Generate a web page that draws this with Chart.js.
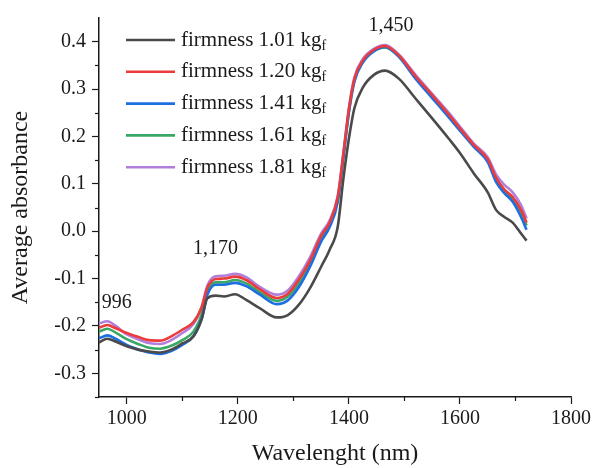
<!DOCTYPE html>
<html>
<head>
<meta charset="utf-8">
<script src="https://cdn.jsdelivr.net/npm/chart.js@4.4.1/dist/chart.umd.min.js"></script>
<style>
  html, body { margin: 0; padding: 0; background: #fff; }
  #wrap { width: 594px; height: 468px; }
</style>
</head>
<body>
<div id="wrap"><canvas id="spectra"></canvas></div>
<script>
const wavelengths = [950, 965, 980, 1000, 1020, 1040, 1060, 1080, 1100, 1120, 1135, 1145, 1160, 1175, 1195, 1215, 1240, 1270, 1290, 1310, 1330, 1350, 1365, 1380, 1390, 1400, 1410, 1425, 1445, 1465, 1490, 1520, 1550, 1580, 1600, 1625, 1650, 1665, 1680, 1695, 1710, 1720];

const firm101 = [-0.235, -0.227, -0.233, -0.243, -0.250, -0.254, -0.256, -0.250, -0.237, -0.222, -0.185, -0.142, -0.136, -0.138, -0.133, -0.145, -0.163, -0.182, -0.177, -0.155, -0.120, -0.075, -0.040, 0.010, 0.110, 0.195, 0.260, 0.303, 0.330, 0.339, 0.322, 0.280, 0.238, 0.195, 0.165, 0.122, 0.082, 0.045, 0.030, 0.018, -0.005, -0.020];
const firm120 = [-0.204, -0.198, -0.205, -0.215, -0.223, -0.230, -0.231, -0.222, -0.208, -0.192, -0.160, -0.120, -0.101, -0.100, -0.096, -0.103, -0.123, -0.141, -0.132, -0.102, -0.062, -0.010, 0.018, 0.072, 0.162, 0.257, 0.322, 0.360, 0.383, 0.391, 0.371, 0.327, 0.287, 0.246, 0.217, 0.182, 0.152, 0.113, 0.088, 0.072, 0.045, 0.018];
const firm141 = [-0.226, -0.220, -0.227, -0.240, -0.249, -0.256, -0.259, -0.253, -0.240, -0.222, -0.185, -0.135, -0.113, -0.113, -0.109, -0.116, -0.134, -0.154, -0.146, -0.118, -0.075, -0.022, 0.008, 0.062, 0.155, 0.250, 0.316, 0.356, 0.380, 0.389, 0.368, 0.322, 0.281, 0.240, 0.212, 0.178, 0.146, 0.104, 0.080, 0.062, 0.030, 0.003];
const firm161 = [-0.212, -0.206, -0.214, -0.228, -0.238, -0.246, -0.248, -0.242, -0.230, -0.212, -0.175, -0.128, -0.108, -0.108, -0.103, -0.110, -0.129, -0.147, -0.138, -0.110, -0.068, -0.015, 0.014, 0.068, 0.158, 0.253, 0.318, 0.357, 0.380, 0.388, 0.369, 0.325, 0.285, 0.245, 0.216, 0.181, 0.150, 0.110, 0.085, 0.068, 0.040, 0.012];
const firm181 = [-0.195, -0.190, -0.200, -0.218, -0.228, -0.236, -0.238, -0.230, -0.215, -0.196, -0.160, -0.115, -0.095, -0.094, -0.090, -0.097, -0.118, -0.134, -0.125, -0.095, -0.055, -0.005, 0.022, 0.075, 0.165, 0.260, 0.325, 0.363, 0.385, 0.393, 0.373, 0.330, 0.290, 0.250, 0.221, 0.185, 0.156, 0.120, 0.098, 0.082, 0.055, 0.027];

const seriesNames = ['firmness 1.01', 'firmness 1.20', 'firmness 1.41', 'firmness 1.61', 'firmness 1.81'];
const seriesValues = [firm101, firm120, firm141, firm161, firm181];
const seriesColors = ['#4a4a4a', '#ec3b3b', '#1c6fe0', '#3aa864', '#b07fdc'];

// tick marks
const xMajor = [1000, 1200, 1400, 1600, 1800];
const xMinor = [1100, 1300, 1500, 1700];
const yMajor = [-0.3, -0.2, -0.1, 0.0, 0.1, 0.2, 0.3, 0.4];
const yMinor = [-0.35, -0.25, -0.15, -0.05, 0.05, 0.15, 0.25, 0.35];

// peak labels: text, wavelength, absorbance where the text sits
const peakText = ['996', '1,170', '1,450'];
const peakX = [982, 1160, 1476];
const peakY = [-0.151, -0.038, 0.434];

const FONT = "'Liberation Serif', 'Times New Roman', serif";
const INK = '#1a1a1a';

const datasets = seriesNames.map((name, i) => ({
  label: name,
  data: wavelengths.map((w, j) => ({ x: w, y: seriesValues[i][j] })),
  borderColor: seriesColors[i],
  backgroundColor: seriesColors[i],
  borderWidth: 2.6,
  pointRadius: 0,
  cubicInterpolationMode: 'monotone',
  fill: false
}));

const extras = {
  id: 'extras',
  afterDraw(chart) {
    const ctx = chart.ctx;
    const xs = chart.scales.x, ys = chart.scales.y;
    const area = chart.chartArea;
    ctx.save();
    ctx.strokeStyle = INK;
    ctx.lineWidth = 1.2;
    // minor ticks
    xMinor.forEach(v => {
      const px = Math.round(xs.getPixelForValue(v)) + 0.5;
      ctx.beginPath(); ctx.moveTo(px, area.bottom); ctx.lineTo(px, area.bottom + 4); ctx.stroke();
    });
    yMinor.forEach(v => {
      const py = Math.round(ys.getPixelForValue(v)) + 0.5;
      ctx.beginPath(); ctx.moveTo(area.left, py); ctx.lineTo(area.left - 4, py); ctx.stroke();
    });
    // peak labels
    ctx.fillStyle = INK;
    ctx.font = '20px ' + FONT;
    ctx.textAlign = 'center';
    ctx.textBaseline = 'middle';
    peakText.forEach((t, i) => {
      ctx.fillText(t, xs.getPixelForValue(peakX[i]), ys.getPixelForValue(peakY[i]));
    });
    // legend with subscript
    ctx.textAlign = 'left';
    chart.data.datasets.forEach((ds, i) => {
      const y = area.top + 22 + i * 31.8;
      const x0 = area.left + 27;
      ctx.strokeStyle = ds.borderColor;
      ctx.lineWidth = 2.6;
      ctx.beginPath(); ctx.moveTo(x0, y); ctx.lineTo(x0 + 49, y); ctx.stroke();
      ctx.fillStyle = INK;
      ctx.font = '21px ' + FONT;
      const main = ds.label + ' kg';
      ctx.fillText(main, x0 + 55, y);
      const w = ctx.measureText(main).width;
      ctx.font = '14px ' + FONT;
      ctx.fillText('f', x0 + 55 + w, y + 6);
    });
    ctx.restore();
  }
};

new Chart(document.getElementById('spectra'), {
  type: 'line',
  data: { datasets: datasets },
  options: {
    responsive: true,
    maintainAspectRatio: false,
    animation: false,
    layout: { padding: { top: 15, right: 22, left: 0, bottom: 0 } },
    plugins: {
      legend: { display: false },
      tooltip: { enabled: false }
    },
    scales: {
      x: {
        type: 'linear',
        min: 950,
        max: 1800,
        afterBuildTicks: s => { s.ticks = xMajor.map(v => ({ value: v })); },
        afterFit: s => { s.height = 71; },
        border: { display: true, color: INK, width: 1.5 },
        grid: { drawOnChartArea: false, tickLength: 7, tickWidth: 1.2, tickColor: INK },
        ticks: {
          padding: 3,
          color: INK,
          font: { family: FONT, size: 20 },
          maxRotation: 0,
          autoSkip: false,
          callback: v => String(v)
        },
        title: {
          display: true,
          text: 'Wavelenght (nm)',
          color: INK,
          font: { family: FONT, size: 24 },
          padding: { top: 4, bottom: 0 }
        }
      },
      y: {
        min: -0.35,
        max: 0.45,
        afterBuildTicks: s => { s.ticks = yMajor.map(v => ({ value: v })); },
        afterFit: s => { s.width = 99; },
        border: { display: true, color: INK, width: 1.5 },
        grid: { drawOnChartArea: false, tickLength: 7, tickWidth: 1.2, tickColor: INK },
        ticks: {
          padding: 6,
          color: INK,
          font: { family: FONT, size: 20 },
          autoSkip: false,
          callback: v => v.toFixed(1)
        },
        title: {
          display: true,
          text: 'Average absorbance',
          color: INK,
          font: { family: FONT, size: 24 },
          padding: { top: 6, bottom: 6 }
        }
      }
    }
  },
  plugins: [extras]
});
</script>
</body>
</html>
